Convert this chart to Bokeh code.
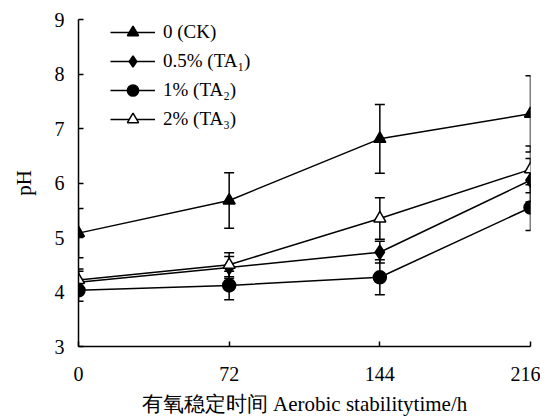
from bokeh.plotting import figure
from bokeh.models import Range1d, Whisker, TeeHead, ColumnDataSource, Legend, LegendItem, FixedTicker
from bokeh.embed import file_html
from bokeh.resources import INLINE

hours = [0, 72, 144, 216]
x_ticks = [0, 72, 144, 216]
y_ticks = [3, 4, 5, 6, 7, 8, 9]

labels = ["0 (CK)", "0.5% (TA₁)", "1% (TA₂)", "2% (TA₃)"]
ck = [5.08, 5.68, 6.81, 7.27]
ck_err = [0.45, 0.51, 0.63, 0.70]
ta1 = [4.18, 4.45, 4.73, 6.05]
ta1_err = [0.20, 0.20, 0.20, 0.40]
ta2 = [4.03, 4.12, 4.27, 5.55]
ta2_err = [0.20, 0.26, 0.32, 0.42]
ta3 = [4.22, 4.50, 5.35, 6.25]
ta3_err = [0.20, 0.22, 0.38, 0.43]

FONT = "Liberation Serif"

p = figure(frame_width=452, frame_height=327, output_backend="svg", toolbar_location=None,
           x_range=Range1d(0, 216), y_range=Range1d(3, 9),
           min_border_left=78, min_border_top=19, min_border_right=10, min_border_bottom=60)
p.xgrid.visible = False
p.ygrid.visible = False
p.outline_line_color = None
p.background_fill_color = "white"

series = [
    (ck, ck_err, "triangle", "black", 12),
    (ta1, ta1_err, "diamond", "black", 14),
    (ta2, ta2_err, "circle", "black", 13),
    (ta3, ta3_err, "triangle", "white", 12),
]

items = []
for (vals, errs, marker, fill, size), lab in zip(series, labels):
    src = ColumnDataSource(dict(x=hours, y=vals,
                                lo=[v - e for v, e in zip(vals, errs)],
                                hi=[v + e for v, e in zip(vals, errs)]))
    w = Whisker(source=src, base="x", lower="lo", upper="hi", line_color="black", line_width=1.5,
                upper_head=TeeHead(size=10, line_width=1.5, line_color="black"),
                lower_head=TeeHead(size=10, line_width=1.5, line_color="black"))
    p.add_layout(w)
    ln = p.line("x", "y", source=src, line_color="black", line_width=1.5)
    sc = p.scatter("x", "y", source=src, marker=marker, size=size, fill_color=fill,
                   line_color="black", line_width=1.5)
    items.append(LegendItem(label=lab, renderers=[ln, sc]))

legend = Legend(items=items, location=(32, 213), glyph_width=45, glyph_height=28,
                label_height=20, spacing=1, label_standoff=8, padding=0, margin=0,
                background_fill_alpha=0, border_line_color=None,
                label_text_font=FONT, label_text_font_size="19px", label_text_color="black")
p.add_layout(legend, "center")

for ax in (p.xaxis[0], p.yaxis[0]):
    ax.axis_line_color = "black"
    ax.axis_line_width = 1.5
    ax.major_tick_line_color = "black"
    ax.major_tick_line_width = 1.5
    ax.major_tick_in = 5
    ax.major_tick_out = 0
    ax.minor_tick_line_color = None
    ax.major_label_text_font = FONT
    ax.major_label_text_font_size = "20px"
    ax.major_label_text_color = "black"
    ax.axis_label_text_font = FONT
    ax.axis_label_text_font_size = "21px"
    ax.axis_label_text_font_style = "normal"
    ax.axis_label_text_color = "black"

p.xaxis.ticker = FixedTicker(ticks=x_ticks)
p.yaxis.ticker = FixedTicker(ticks=y_ticks)
p.xaxis.major_label_standoff = 20
p.yaxis.major_label_standoff = 14
p.xaxis.axis_label = "有氧稳定时间 Aerobic stabilitytime/h"
p.yaxis.axis_label = "pH"
p.xaxis.axis_label_standoff = 8
p.yaxis.axis_label_standoff = 16

open("out.html", "w").write(file_html(p, INLINE))
